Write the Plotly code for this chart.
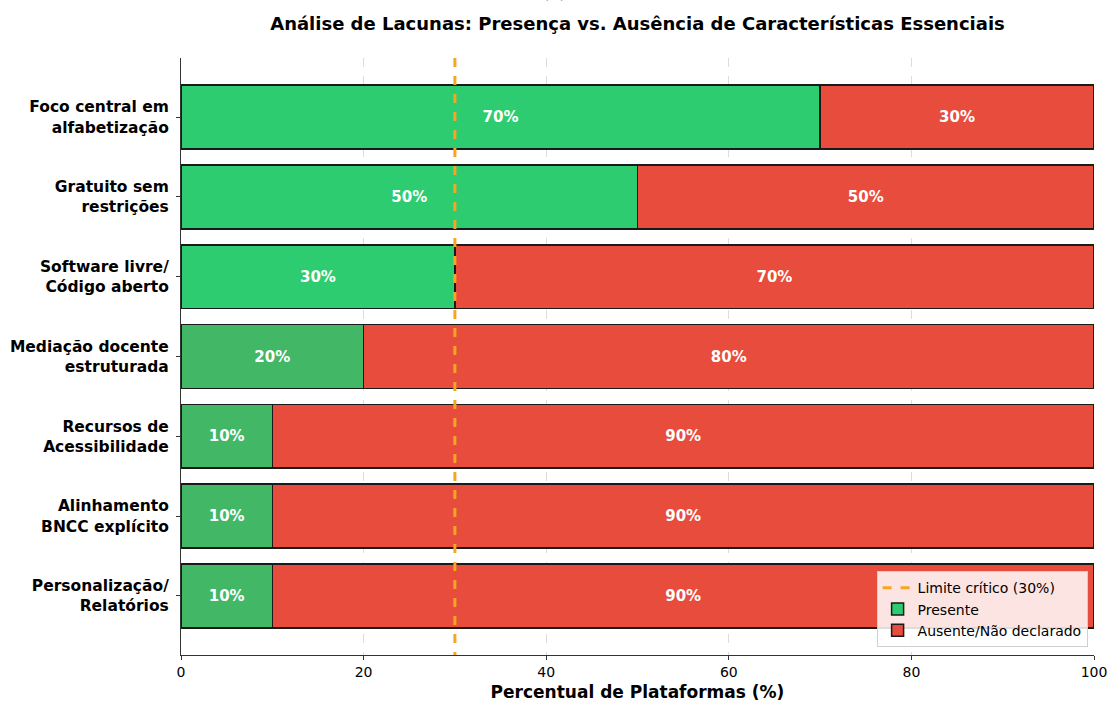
import plotly.graph_objects as go

categories = [
    "Foco central em<br>alfabetização",
    "Gratuito sem<br>restrições",
    "Software livre/<br>Código aberto",
    "Mediação docente<br>estruturada",
    "Recursos de<br>Acessibilidade",
    "Alinhamento<br>BNCC explícito",
    "Personalização/<br>Relatórios",
]
presente = [70, 50, 30, 20, 10, 10, 10]
ausente = [30, 50, 70, 80, 90, 90, 90]
limite = 30
x_ticks = [0, 20, 40, 60, 80, 100]

green_hi = "#2ecc71"
green_lo = "rgb(66,183,102)"
red = "#e74c3c"
green_colors = [green_hi if p >= limite else green_lo for p in presente]

FONT = "DejaVu Sans"

fig = go.Figure()

fig.add_trace(go.Scatter(
    x=[limite, limite], y=[-0.74, 6.74], mode="lines",
    name="Limite crítico (30%)",
    line=dict(color="#f5a623", width=3, dash="dash"),
    yaxis="y2", hoverinfo="skip",
))
fig.add_trace(go.Bar(
    y=categories, x=presente, orientation="h", name="Presente",
    marker=dict(color=green_colors, line=dict(color="#1a1a1a", width=1.5)),
    width=0.8,
    text=[f"<b>{v}%</b>" for v in presente], textposition="inside",
    insidetextanchor="middle", textangle=0,
    textfont=dict(family=FONT, size=15, color="white"),
))
fig.add_trace(go.Bar(
    y=categories, x=ausente, orientation="h", name="Ausente/Não declarado",
    marker=dict(color=red, line=dict(color="#1a1a1a", width=1.5)),
    width=0.8,
    text=[f"<b>{v}%</b>" for v in ausente], textposition="inside",
    insidetextanchor="middle", textangle=0,
    textfont=dict(family=FONT, size=15, color="white"),
))

fig.update_layout(
    barmode="stack",
    width=1109, height=702,
    margin=dict(l=181, r=15, t=58, b=47, autoexpand=False),
    plot_bgcolor="white", paper_bgcolor="white",
    font=dict(family=FONT, color="black"),
    title=dict(
        text="<b>Análise de Lacunas: Presença vs. Ausência de Características Essenciais</b>",
        x=637.5 / 1109, xanchor="center",
        y=1 - 24 / 702, yanchor="middle",
        font=dict(family=FONT, size=18, color="black"),
    ),
    xaxis=dict(
        range=[0, 100], tickvals=x_ticks, ticktext=[str(v) for v in x_ticks],
        showgrid=True, gridcolor="#dcdcdc", griddash="dash", gridwidth=1,
        showline=True, linecolor="#333333", linewidth=1.2,
        ticks="outside", ticklen=4, tickcolor="#333333",
        tickfont=dict(family=FONT, size=14, color="black"),
        title=dict(text="<b>Percentual de Plataformas (%)</b>",
                   font=dict(family=FONT, size=17, color="black"), standoff=12),
        zeroline=False, automargin=False,
    ),
    yaxis=dict(
        range=[6.74, -0.74],
        showline=True, linecolor="#333333", linewidth=1.2,
        ticks="outside", ticklen=4, tickcolor="#333333",
        tickfont=dict(family=FONT, size=15.5, color="black", weight="bold"),
        ticklabelstandoff=4,
        showgrid=False, zeroline=False, automargin=False,
    ),
    yaxis2=dict(range=[6.74, -0.74], overlaying="y", visible=False),
    legend=dict(
        x=0.993, y=0.013, xanchor="right", yanchor="bottom",
        bgcolor="rgba(255,255,255,0.85)", bordercolor="#d0d0d0", borderwidth=1,
        font=dict(family=FONT, size=14, color="black"),
        traceorder="normal", tracegroupgap=0, itemwidth=30,
    ),
    showlegend=True,
)

fig.add_annotation(
    text="(b)", xref="paper", yref="paper",
    x=(554 - 181) / (1109 - 181 - 15), y=(655 - 4) / 597,
    xanchor="center", yanchor="bottom", showarrow=False,
    font=dict(family=FONT, size=16, color="#555555"),
)

fig.write_html("out.html")
